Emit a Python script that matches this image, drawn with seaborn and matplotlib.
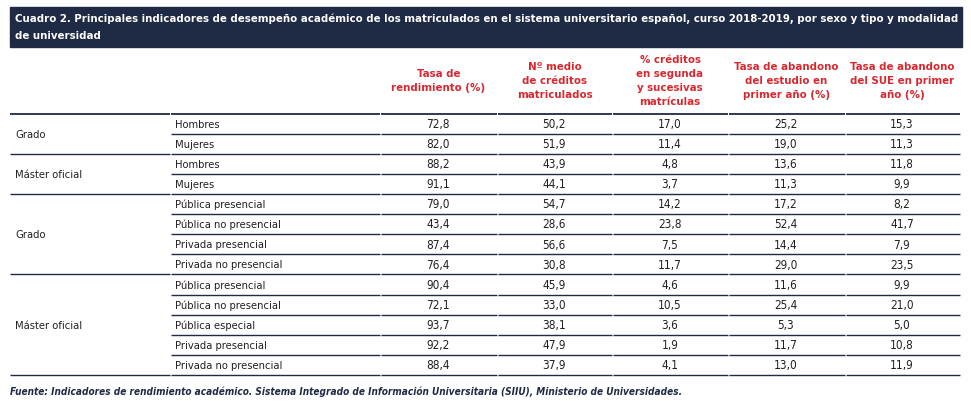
import numpy as np
import pandas as pd
import matplotlib
matplotlib.use("Agg")
import matplotlib.pyplot as plt
import seaborn as sns
from matplotlib.colors import ListedColormap
from matplotlib.patches import Rectangle

# datos del cuadro
titulo_1 = ("Cuadro 2. Principales indicadores de desempeño académico de los matriculados en el sistema "
            "universitario español, curso 2018-2019, por sexo y tipo y modalidad")
titulo_2 = "de universidad"
fuente = ("Fuente: Indicadores de rendimiento académico. Sistema Integrado de Información Universitaria "
          "(SIIU), Ministerio de Universidades.")
columnas = [
    "Tasa de\nrendimiento (%)",
    "Nº medio\nde créditos\nmatriculados",
    "% créditos\nen segunda\ny sucesivas\nmatrículas",
    "Tasa de abandono\ndel estudio en\nprimer año (%)",
    "Tasa de abandono\ndel SUE en primer\naño (%)",
]
grupos = ["Grado", "Máster oficial", "Grado", "Máster oficial"]
filas_por_grupo = [2, 2, 4, 5]
subcategorias = [
    "Hombres", "Mujeres",
    "Hombres", "Mujeres",
    "Pública presencial", "Pública no presencial", "Privada presencial", "Privada no presencial",
    "Pública presencial", "Pública no presencial", "Pública especial", "Privada presencial",
    "Privada no presencial",
]
tasa_rendimiento = [72.8, 82.0, 88.2, 91.1, 79.0, 43.4, 87.4, 76.4, 90.4, 72.1, 93.7, 92.2, 88.4]
creditos_medio = [50.2, 51.9, 43.9, 44.1, 54.7, 28.6, 56.6, 30.8, 45.9, 33.0, 38.1, 47.9, 37.9]
creditos_segunda = [17.0, 11.4, 4.8, 3.7, 14.2, 23.8, 7.5, 11.7, 4.6, 10.5, 3.6, 1.9, 4.1]
abandono_estudio = [25.2, 19.0, 13.6, 11.3, 17.2, 52.4, 14.4, 29.0, 11.6, 25.4, 5.3, 11.7, 13.0]
abandono_sue = [15.3, 11.3, 11.8, 9.9, 8.2, 41.7, 7.9, 23.5, 9.9, 21.0, 5.0, 10.8, 11.9]

df = pd.DataFrame({
    "c1": tasa_rendimiento, "c2": creditos_medio, "c3": creditos_segunda,
    "c4": abandono_estudio, "c5": abandono_sue,
})
etiquetas = df.apply(lambda s: s.map(lambda v: f"{v:.1f}".replace(".", ","))).values

sns.set_theme(style="white")
plt.rcParams["font.family"] = ["DejaVu Sans"]
plt.rcParams["font.stretch"] = "condensed"

AZUL = "#1f2a44"
ROJO = "#d7282f"
TEXTO = "#231f20"

W, H = 971, 412
fig = plt.figure(figsize=(W / 100, H / 100), dpi=100)
ax = fig.add_axes([0, 0, 1, 1])
ax.set_xlim(0, W)
ax.set_ylim(H, 0)
ax.axis("off")
ax.set_zorder(2)
renderer = fig.canvas.get_renderer()


def ajustar(t, ancho):
    # escala el tamaño de letra para que el texto ocupe el ancho de la referencia
    w = t.get_window_extent(renderer).width
    t.set_fontsize(t.get_fontsize() * ancho / w)
    return t.get_fontsize()


# bordes de columnas y filas (pixeles)
bordes = [10, 170, 380, 497, 612, 728, 845, 960]
y0, y1 = 113.5, 375.0
n = len(subcategorias)
alto = (y1 - y0) / n

# barra de título
ax.add_patch(Rectangle((10, 7), 952, 40, color=AZUL, zorder=1))
t1 = ax.text(15, 19, titulo_1, color="white", fontsize=10, fontweight="bold",
             va="center", ha="left", zorder=3)
fs_tit = ajustar(t1, 936)
ax.text(15, 36, titulo_2, color="white", fontsize=fs_tit, fontweight="bold",
        va="center", ha="left", zorder=3)

# cabeceras
t = ax.text(0, 0, "Tasa de abandono", fontsize=10, fontweight="bold")
fs_cab = ajustar(t, 104)
t.remove()
for i, col in enumerate(columnas):
    xc = (bordes[i + 2] + bordes[i + 3]) / 2
    ax.text(xc, 81, col, color=ROJO, fontsize=fs_cab, fontweight="bold",
            ha="center", va="center", linespacing=1.5)

# tamaño del cuerpo
t = ax.text(0, 0, "Privada no presencial", fontsize=10)
fs_txt = ajustar(t, 108)
t.remove()

# tabla de valores con seaborn
ax_t = fig.add_axes([bordes[2] / W, (H - y1) / H, (bordes[-1] - bordes[2]) / W, (y1 - y0) / H])
sns.heatmap(df.values, annot=etiquetas, fmt="", cbar=False,
            cmap=ListedColormap([(1, 1, 1, 0)]), ax=ax_t,
            xticklabels=False, yticklabels=False,
            annot_kws={"color": TEXTO, "fontsize": fs_txt * 1.05})
ax_t.set_zorder(1)
for txt in ax_t.texts:
    x, y = txt.get_position()
    txt.set_position((x, y + 0.04))

# etiquetas de filas y líneas
inicio = 0
for g, k in zip(grupos, filas_por_grupo):
    ax.text(15, y0 + (inicio + k / 2) * alto + 1, g, color=TEXTO, fontsize=fs_txt,
            va="center", ha="left")
    for j in range(k):
        r = inicio + j
        ax.text(175, y0 + (r + 0.5) * alto + 1, subcategorias[r], color=TEXTO, fontsize=fs_txt,
                va="center", ha="left")
    inicio += k

limites_grupo = set(np.cumsum([0] + filas_por_grupo))
for r in range(n + 1):
    y = y0 + r * alto
    desde = 0 if r in limites_grupo else 1
    lw = 1.3 if r == 0 else 1.0
    for c in range(desde, len(bordes) - 1):
        ax.plot([bordes[c] + (0.5 if c > 0 else 0), bordes[c + 1] - 0.5], [y, y],
                color=AZUL, lw=lw, solid_capstyle="butt")

# fuente
tf = ax.text(10, 392, fuente, color=AZUL, fontsize=8.5, fontweight="bold", fontstyle="italic",
             va="center", ha="left")
ajustar(tf, 662)

fig.savefig("out.png", dpi=100)
